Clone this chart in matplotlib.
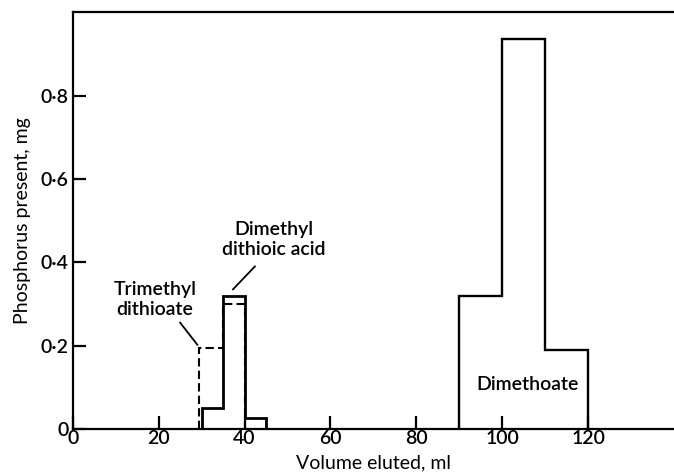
import matplotlib.pyplot as plt

plt.rcParams['font.family'] = ['Lato', 'DejaVu Sans']
plt.rcParams['font.weight'] = 'semibold'

"""Data read off the figure"""
# solid outline (measured phosphorus)
solid_edges_a = [30, 35, 40, 45]
solid_vals_a = [0.05, 0.32, 0.025]
solid_edges_b = [90, 100, 110, 120]
solid_vals_b = [0.32, 0.935, 0.19]
# dashed outline
dash_edges = [29.5, 35, 40]
dash_vals = [0.195, 0.30]

xticks = [0, 20, 40, 60, 80, 100, 120]
yticks = [0, 0.2, 0.4, 0.6, 0.8]
ytick_labels = ["0", "0·2", "0·4", "0·6", "0·8"]

"""Plot"""
fig = plt.figure(figsize=(6.74, 4.76), dpi=100)
ax = fig.add_axes([0.108, 0.099, 0.892, 0.875])

ax.stairs(solid_vals_a, solid_edges_a, baseline=0, color="black", lw=2.0)
ax.stairs(solid_vals_b, solid_edges_b, baseline=0, color="black", lw=1.7)
ax.stairs(dash_vals, dash_edges, baseline=0, color="black", lw=1.5,
          linestyle=(0, (4, 2)))

ax.set_xlim(0, 140)
ax.set_ylim(0, 1.0)
ax.set_xticks(xticks)
ax.set_yticks(yticks)
ax.set_yticklabels(ytick_labels)
ax.tick_params(direction="in", length=9.5, width=1.6, labelsize=14, pad=3)
ax.tick_params(axis="x", pad=1)
ax.spines["right"].set_visible(False)
for s in ["left", "bottom", "top"]:
    ax.spines[s].set_linewidth(1.6)

ax.set_xlabel("Volume eluted, ml", fontsize=14, labelpad=5)
ax.set_ylabel("Phosphorus present, mg", fontsize=14, labelpad=7)

# annotations
ax.text(19.1, 0.31, "Trimethyl\ndithioate", fontsize=14, ha="center",
        va="center", linespacing=1.2)
ax.plot([25.0, 29.0], [0.255, 0.202], color="black", lw=1.3)
ax.text(46.8, 0.455, "Dimethyl\ndithioic acid", fontsize=14, ha="center",
        va="center", linespacing=1.2)
ax.plot([42.4, 37.3], [0.39, 0.335], color="black", lw=1.3)
ax.text(105.8, 0.106, "Dimethoate", fontsize=14, ha="center", va="center")

plt.savefig("out.png", dpi=100)
